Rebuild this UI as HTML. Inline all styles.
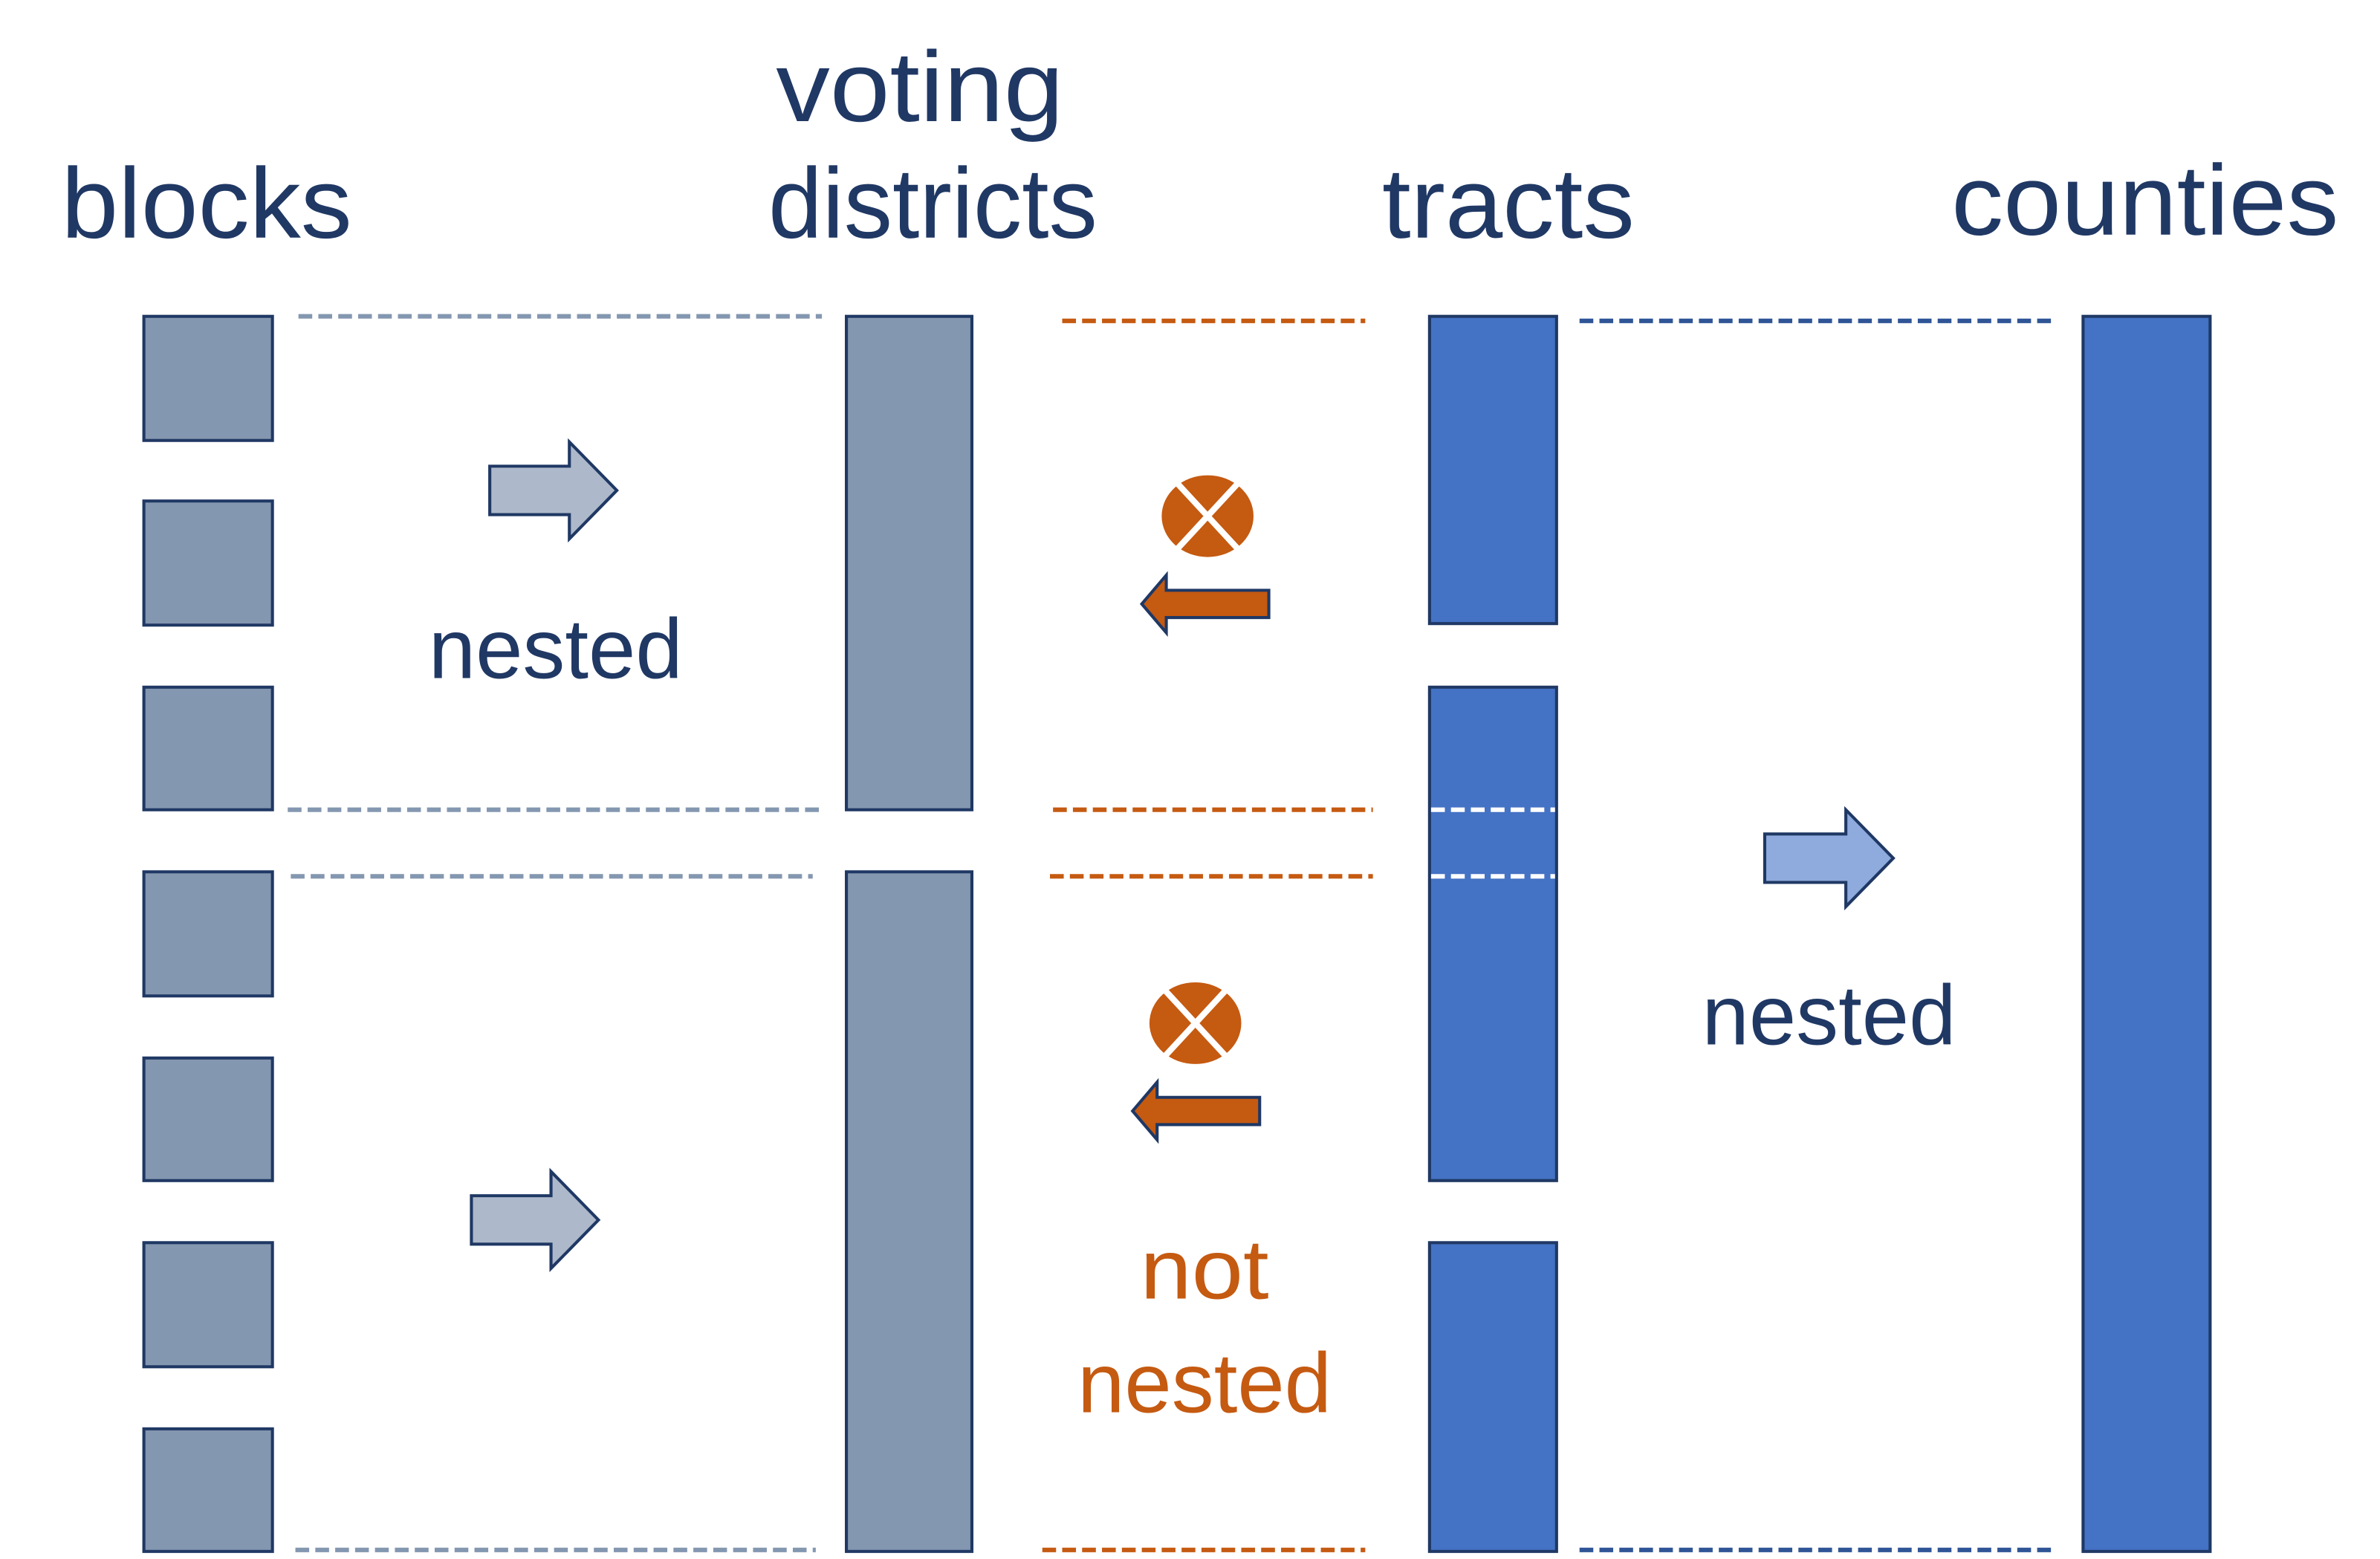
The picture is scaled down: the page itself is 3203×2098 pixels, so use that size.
<!DOCTYPE html>
<html><head><style>html,body{margin:0;padding:0;background:#fff;}svg{display:block}</style></head>
<body>
<svg width="3203" height="2098" viewBox="0 0 1555 1030" preserveAspectRatio="none" xmlns="http://www.w3.org/2000/svg">
<g font-family="Liberation Sans, sans-serif" fill="#203864" font-size="66">
<text x="40" y="157" textLength="190" lengthAdjust="spacingAndGlyphs">blocks</text>
<text x="507" y="80" textLength="188" lengthAdjust="spacingAndGlyphs">voting</text>
<text x="502" y="157" textLength="215" lengthAdjust="spacingAndGlyphs">districts</text>
<text x="903" y="157" textLength="165" lengthAdjust="spacingAndGlyphs">tracts</text>
<text x="1275" y="155" textLength="253" lengthAdjust="spacingAndGlyphs">counties</text>
</g>
<g stroke-width="3" stroke-dasharray="9,4" fill="none">
<g stroke="#8497B0">
<line x1="195" y1="209" x2="537" y2="209"/><line x1="188" y1="535" x2="535" y2="535"/>
<line x1="190" y1="579" x2="531" y2="579"/><line x1="193" y1="1024" x2="533" y2="1024"/>
</g>
<g stroke="#C55A11">
<line x1="694" y1="212" x2="892" y2="212"/><line x1="688" y1="535" x2="897" y2="535"/>
<line x1="686" y1="579" x2="897" y2="579"/><line x1="681" y1="1024" x2="892" y2="1024"/>
</g>
<g stroke="#2F5597">
<line x1="1032" y1="212" x2="1342" y2="212"/><line x1="1032" y1="1024" x2="1342" y2="1024"/>
</g>
</g>
<g fill="#8497B0" stroke="#1F3864" stroke-width="2">
<rect x="94" y="209" width="84" height="82"/><rect x="94" y="331" width="84" height="82"/>
<rect x="94" y="454" width="84" height="81"/><rect x="94" y="576" width="84" height="82"/>
<rect x="94" y="699" width="84" height="81"/><rect x="94" y="821" width="84" height="82"/>
<rect x="94" y="944" width="84" height="81"/>
<rect x="553" y="209" width="82" height="326"/><rect x="553" y="576" width="82" height="449"/>
</g>
<g fill="#4472C4" stroke="#1F3864" stroke-width="2">
<rect x="934" y="209" width="83" height="203"/><rect x="934" y="454" width="83" height="326"/>
<rect x="934" y="821" width="83" height="204"/><rect x="1361" y="209" width="83" height="816"/>
</g>
<g stroke="#fff" stroke-width="3" stroke-dasharray="9,4">
<line x1="935" y1="535" x2="1016" y2="535"/><line x1="935" y1="579" x2="1016" y2="579"/>
</g>
<g stroke="#1F3864" stroke-width="2">
<polygon fill="#ADB9CA" points="320,308 372,308 372,292 403,324 372,356 372,340 320,340"/>
<polygon fill="#ADB9CA" points="308,790 360,790 360,774 391,806 360,838 360,822 308,822"/>
<polygon fill="#8FAADC" points="1153,551 1206,551 1206,535 1237,567 1206,599 1206,583 1153,583"/>
<polygon fill="#C55A11" points="829,390 762,390 762,380 746,399 762,418 762,408 829,408"/>
<polygon fill="#C55A11" points="823,725 756,725 756,715 740,734 756,753 756,743 823,743"/>
</g>
<g>
<ellipse cx="789" cy="341" rx="30" ry="27" fill="#C55A11"/>
<line x1="768" y1="318" x2="810" y2="364" stroke="#fff" stroke-width="4"/>
<line x1="810" y1="318" x2="768" y2="364" stroke="#fff" stroke-width="4"/>
<ellipse cx="781" cy="676" rx="30" ry="27" fill="#C55A11"/>
<line x1="760" y1="653" x2="802" y2="699" stroke="#fff" stroke-width="4"/>
<line x1="802" y1="653" x2="760" y2="699" stroke="#fff" stroke-width="4"/>
</g>
<g font-family="Liberation Sans, sans-serif" font-size="56" text-anchor="middle">
<text x="363" y="448" fill="#203864" textLength="166" lengthAdjust="spacingAndGlyphs">nested</text>
<text x="1195" y="690" fill="#203864" textLength="166" lengthAdjust="spacingAndGlyphs">nested</text>
<text x="787" y="858" fill="#C55A11" textLength="84" lengthAdjust="spacingAndGlyphs">not</text>
<text x="787" y="933" fill="#C55A11" textLength="166" lengthAdjust="spacingAndGlyphs">nested</text>
</g>
</svg>
</body></html>
